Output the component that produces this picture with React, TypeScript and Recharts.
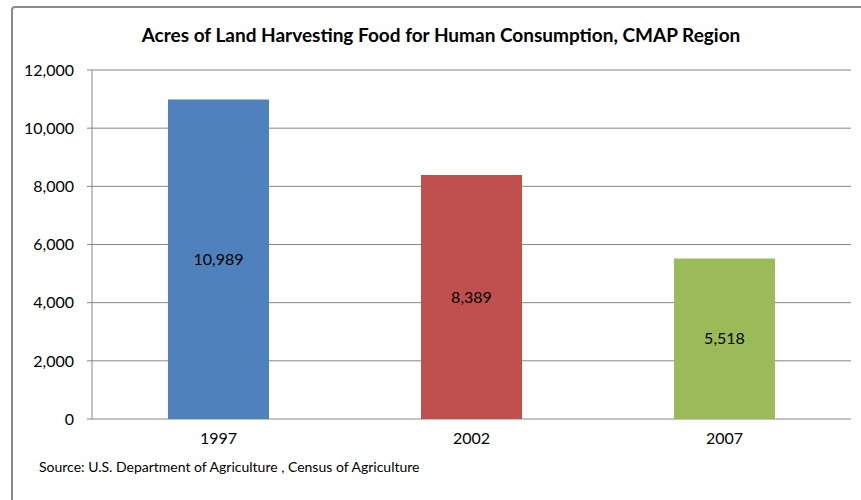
import React from 'react';
import { BarChart, Bar, XAxis, YAxis, CartesianGrid, LabelList, Cell } from 'recharts';

const years = ['1997', '2002', '2007'];
const acres = [10989, 8389, 5518];
const barColors = ['#4F81BD', '#C0504D', '#9BBB59'];
const yTicks = [0, 2000, 4000, 6000, 8000, 10000, 12000];
const boundaryTicks = [0, 1, 2, 3];

const chartData = years.map((year, i) => ({ year, acres: acres[i] }));

const fmt = (v: number) => Number(v).toLocaleString('en-US');

const font = 'Lato, "Open Sans", sans-serif';

export default function App() {
  return (
    <div style={{ position: 'absolute', left: 0, top: 0, width: 861, height: 500, overflow: 'hidden', background: '#fff', fontFamily: font }}>
      <div style={{ position: 'absolute', left: 11, top: 6, width: 880, height: 520, border: '2px solid #8a8a8a', borderRadius: 4, boxSizing: 'border-box' }} />
      <div style={{ position: 'absolute', left: 11, width: 860, top: 23, textAlign: 'center', fontWeight: 700, fontSize: 19, color: '#000' }}>
        Acres of Land Harvesting Food for Human Consumption, CMAP Region
      </div>
      <div style={{ position: 'absolute', left: 39, top: 458, fontSize: 14, color: '#000' }}>
        Source: U.S. Department of Agriculture , Census of Agriculture
      </div>
      <div style={{ position: 'absolute', left: 0, top: 0 }}>
        <BarChart width={861} height={500} data={chartData} margin={{ top: 70, right: 10, left: 0, bottom: 51 }}>
          <CartesianGrid vertical={false} stroke="#868686" />
          <XAxis
            xAxisId="edges"
            type="number"
            domain={[0, 3]}
            ticks={boundaryTicks}
            height={0}
            stroke="#868686"
            tickSize={5}
            tickFormatter={() => ''}
            allowDataOverflow
          />
          <XAxis
            xAxisId="cat"
            dataKey="year"
            height={30}
            axisLine={false}
            tickLine={false}
            tickSize={5}
            tickMargin={9}
            tick={{ fill: '#000', fontSize: 16, fontFamily: font }}
          />
          <YAxis
            width={92}
            domain={[0, 12000]}
            ticks={yTicks}
            stroke="#868686"
            tickSize={5}
            tickMargin={13}
            tickFormatter={fmt}
            tick={{ fill: '#000', fontSize: 16, fontFamily: font }}
          />
          <Bar dataKey="acres" xAxisId="cat" barSize={101} isAnimationActive={false}>
            {chartData.map((d, i) => (
              <Cell key={d.year} fill={barColors[i]} />
            ))}
            <LabelList dataKey="acres" position="center" formatter={fmt} fill="#000" fontSize={16} fontFamily={font} />
          </Bar>
        </BarChart>
      </div>
    </div>
  );
}
